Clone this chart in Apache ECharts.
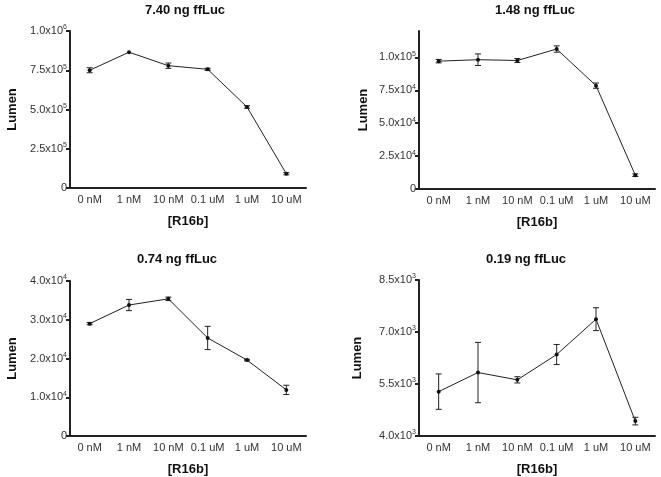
<!DOCTYPE html>
<html><head><meta charset="utf-8">
<script src="https://cdn.jsdelivr.net/npm/echarts@6/dist/echarts.min.js"></script>
<style>html,body{margin:0;padding:0;background:#fff}#c{width:661px;height:477px}</style>
</head><body><div id="c"></div>
<script>
var categories = ['0 nM','1 nM','10 nM','0.1 uM','1 uM','10 uM'];
var titles = ['7.40 ng ffLuc','1.48 ng ffLuc','0.74 ng ffLuc','0.19 ng ffLuc'];
var p1Mean = [750000, 865000, 779000, 756000, 516000, 91000];
var p1Err  = [16000, 0, 17000, 7000, 8000, 7000];
var p2Mean = [97100, 98200, 97600, 106300, 78500, 10500];
var p2Err  = [1300, 4400, 1500, 2400, 2000, 1000];
var p3Mean = [29000, 33800, 35400, 25300, 19600, 11900];
var p3Err  = [300, 1450, 450, 3000, 200, 1200];
var p4Mean = [5280, 5830, 5620, 6350, 7370, 4430];
var p4Err  = [510, 870, 90, 290, 330, 110];
var p1Ticks = [0, 250000, 500000, 750000, 1000000];
var p2Ticks = [0, 25000, 50000, 75000, 100000];
var p3Ticks = [0, 10000, 20000, 30000, 40000];
var p4Ticks = [4000, 5500, 7000, 8500];
var yRanges = [[0, 1000000], [0, 120000], [0, 40000], [4000, 8500]];

var means = [p1Mean, p2Mean, p3Mean, p4Mean];
var errs = [p1Err, p2Err, p3Err, p4Err];
var ticks = [p1Ticks, p2Ticks, p3Ticks, p4Ticks];

var FONT = 'Liberation Sans, Arial, sans-serif';
var grids = [
  {left: 70, top: 31, width: 236, height: 157},
  {left: 419, top: 31, width: 236, height: 158},
  {left: 70, top: 281, width: 236, height: 156},
  {left: 419, top: 280, width: 236, height: 157}
];
var titlePos = [[185, 4], [535, 4], [177, 253], [526, 253]];
var nameGaps = [51, 49, 51, 55];

function fmt(v) {
  if (v === 0) return '0';
  var e = Math.floor(Math.log10(v) + 1e-9);
  var m = v / Math.pow(10, e);
  return m.toFixed(1) + 'x10{sup|' + e + '}';
}

var option = {
  animation: false,
  backgroundColor: '#fff',
  title: titles.map(function (t, i) {
    return {text: t, left: titlePos[i][0], top: titlePos[i][1], textAlign: 'center', padding: 0,
      textStyle: {fontFamily: FONT, fontSize: 13, fontWeight: 'bold', color: '#111'}};
  }),
  grid: grids,
  xAxis: grids.map(function (g, i) {
    return {
      type: 'category', gridIndex: i, data: categories, boundaryGap: true,
      name: '[R16b]', nameLocation: 'middle', nameGap: 27,
      nameTextStyle: {fontFamily: FONT, fontSize: 13, fontWeight: 'bold', color: '#111'},
      axisLine: {lineStyle: {color: '#222', width: 2}},
      axisTick: {alignWithLabel: true, length: 4, lineStyle: {color: '#222', width: 2}},
      axisLabel: {fontFamily: FONT, fontSize: 11, color: '#333', margin: 6, interval: 0},
      splitLine: {show: false}
    };
  }),
  yAxis: grids.map(function (g, i) {
    return {
      type: 'value', gridIndex: i, min: yRanges[i][0], max: yRanges[i][1],
      name: 'Lumen', nameLocation: 'middle', nameGap: nameGaps[i],
      nameTextStyle: {fontFamily: FONT, fontSize: 13, fontWeight: 'bold', color: '#111'},
      axisLine: {show: true, lineStyle: {color: '#222', width: 2}},
      axisTick: {show: true, length: 4, lineStyle: {color: '#222', width: 2}, customValues: ticks[i]},
      axisLabel: {
        customValues: ticks[i], margin: 3,
        formatter: function (v) { return fmt(v); },
        fontFamily: FONT, fontSize: 11, color: '#333',
        rich: {sup: {fontFamily: FONT, fontSize: 7, color: '#333', verticalAlign: 'top', lineHeight: 14}}
      },
      splitLine: {show: false}
    };
  }),
  series: []
};

means.forEach(function (m, i) {
  option.series.push({
    type: 'line', xAxisIndex: i, yAxisIndex: i, data: m,
    symbol: 'circle', symbolSize: 4,
    itemStyle: {color: '#111'},
    lineStyle: {color: '#222', width: 1}
  });
  option.series.push({
    type: 'custom', xAxisIndex: i, yAxisIndex: i,
    data: m.map(function (v, k) { return [k, v - errs[i][k], v + errs[i][k]]; }),
    renderItem: function (params, api) {
      var lo = api.coord([api.value(0), api.value(1)]);
      var hi = api.coord([api.value(0), api.value(2)]);
      if (Math.abs(hi[1] - lo[1]) < 0.5) return null;
      var w = 3;
      var st = {stroke: '#222', lineWidth: 1};
      return {type: 'group', children: [
        {type: 'line', shape: {x1: lo[0], y1: lo[1], x2: hi[0], y2: hi[1]}, style: st},
        {type: 'line', shape: {x1: lo[0] - w, y1: lo[1], x2: lo[0] + w, y2: lo[1]}, style: st},
        {type: 'line', shape: {x1: hi[0] - w, y1: hi[1], x2: hi[0] + w, y2: hi[1]}, style: st}
      ]};
    },
    z: 3
  });
});

var chart = echarts.init(document.getElementById('c'), null, {renderer: 'canvas'});
chart.setOption(option);
</script></body></html>
